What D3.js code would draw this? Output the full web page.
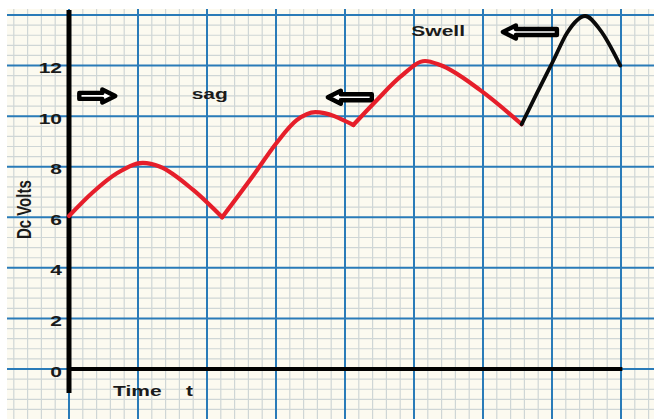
<!DOCTYPE html>
<html><head><meta charset="utf-8">
<script src="https://cdn.jsdelivr.net/npm/d3@7"></script>
<style>html,body{margin:0;padding:0;background:#fff;}svg{display:block;}</style>
</head><body>
<script>
// ---- data ----
const redT = [0, 0.35, 0.70, 1.07, 1.32, 1.80, 2.22, 2.67, 3.01, 3.30, 3.57, 4.12, 4.46, 4.80, 5.16, 5.38, 5.96, 6.56];
const redV = [6.05, 7.0, 7.75, 8.15, 8.0, 7.08, 6.0, 7.65, 8.95, 9.84, 10.16, 9.65, 10.63, 11.55, 12.18, 12.02, 11.03, 9.68];
const redBreaks = [0, 6, 11, 17];
const blackT = [6.56, 6.78, 7.02, 7.22, 7.48, 7.70, 7.99];
const blackV = [9.68, 10.9, 12.2, 13.3, 13.96, 13.4, 12.0];
const yTickLabels = ["0", "2", "4", "6", "8", "10", "12"];
const yTickValues = [0, 2, 4, 6, 8, 10, 12];
const yTitle = "Dc Volts";
const xTitle = "Time";
const xSymbol = "t";
const labels = [{text: "sag", t: 2.04, v: 10.87}, {text: "Swell", t: 5.35, v: 13.36}];
const arrows = [{t: 0.41, v: 10.8, dir: 1, len: 36}, {t: 4.07, v: 10.75, dir: -1, len: 44}, {t: 6.68, v: 13.33, dir: -1, len: 54}];

const W = 654, H = 419;
const x = d3.scaleLinear().domain([0, 8]).range([69, 621]);
const y = d3.scaleLinear().domain([0, 14]).range([369, 15]);

const svg = d3.select("body").append("svg").attr("width", W).attr("height", H);
svg.append("rect").attr("width", W).attr("height", H).attr("fill", "#ffffff");

// paper
const paper = {x0: 7, y0: 9, x1: W, y1: H};
svg.append("rect").attr("x", paper.x0).attr("y", paper.y0)
  .attr("width", paper.x1 - paper.x0).attr("height", paper.y1 - paper.y0).attr("fill", "#fcfaf0");

const gGrid = svg.append("g");
const tMin = x.invert(paper.x0), tMax = x.invert(paper.x1);
const vMin = y.invert(paper.y1), vMax = y.invert(paper.y0);
// minor grid
const minorT = d3.range(Math.ceil(tMin / 0.2) * 0.2, tMax, 0.2).filter(t => Math.abs(t - Math.round(t)) > 0.01);
const minorV = d3.range(Math.ceil(vMin / 0.4) * 0.4, vMax, 0.4).filter(v => Math.abs(v / 2 - Math.round(v / 2)) > 0.01);
gGrid.selectAll(".mvx").data(minorT).join("line")
  .attr("x1", d => x(d)).attr("x2", d => x(d)).attr("y1", paper.y0).attr("y2", paper.y1)
  .attr("stroke", "#cfd6d6").attr("stroke-width", 1.2);
gGrid.selectAll(".mhy").data(minorV).join("line")
  .attr("y1", d => y(d)).attr("y2", d => y(d)).attr("x1", paper.x0).attr("x2", paper.x1)
  .attr("stroke", "#cfd6d6").attr("stroke-width", 1.2);
// major grid
const majorT = d3.range(Math.ceil(tMin), tMax, 1);
const majorV = d3.range(Math.ceil(vMin / 2) * 2, vMax, 2);
gGrid.selectAll(".Mvx").data(majorT).join("line")
  .attr("x1", d => x(d)).attr("x2", d => x(d)).attr("y1", paper.y0).attr("y2", paper.y1)
  .attr("stroke", "#2a7bb8").attr("stroke-width", 2);
gGrid.selectAll(".Mhy").data(majorV).join("line")
  .attr("y1", d => y(d)).attr("y2", d => y(d)).attr("x1", paper.x0).attr("x2", paper.x1)
  .attr("stroke", "#2a7bb8").attr("stroke-width", 2);

// axes lines
svg.append("line").attr("x1", x(0)).attr("x2", x(0)).attr("y1", y(14.2)).attr("y2", y(-0.95))
  .attr("stroke", "#000").attr("stroke-width", 5);
svg.append("line").attr("x1", x(0)).attr("x2", x(8.02)).attr("y1", y(0)).attr("y2", y(0))
  .attr("stroke", "#000").attr("stroke-width", 4);

// y tick labels via axis
const yAxis = d3.axisLeft(y).tickValues(yTickValues).tickFormat((d, i) => yTickLabels[i]).tickSize(0);
const gy = svg.append("g").attr("transform", `translate(${x(0) - 7},0)`).call(yAxis);
gy.select(".domain").remove();
gy.selectAll("text")
  .attr("x", null).attr("dy", null)
  .attr("font-family", "Liberation Sans, Arial, sans-serif").attr("font-weight", "bold")
  .attr("font-size", 14).attr("fill", "#1a1a1a").attr("text-anchor", "end")
  .attr("transform", "translate(0,7) scale(1.5,1)");

const txt = (sel) => sel.attr("font-family", "Liberation Sans, Arial, sans-serif").attr("font-weight", "bold").attr("fill", "#1a1a1a");

// y title
svg.append("text").call(txt).attr("font-size", 15).attr("text-anchor", "middle")
  .attr("transform", `translate(31,${y(6.3)}) scale(1.4,1) rotate(-90)`).text(yTitle);
// x title
svg.append("text").call(txt).attr("font-size", 14)
  .attr("transform", `translate(113,396) scale(1.5,1)`).text(xTitle);
svg.append("text").call(txt).attr("font-size", 14)
  .attr("transform", `translate(186,396) scale(1.5,1)`).text(xSymbol);

// annotation labels
labels.forEach(l => {
  svg.append("text").call(txt).attr("font-size", 14).attr("text-anchor", "middle")
    .attr("transform", `translate(${x(l.t)},${y(l.v) + 5}) scale(1.5,1)`).text(l.text);
});

// arrows
arrows.forEach(a => {
  const L = a.len, hb = 3, hh = 6.5, head = 13;
  const pts = [[-L / 2, -hb], [L / 2 - head, -hb], [L / 2 - head, -hh], [L / 2, 0], [L / 2 - head, hh], [L / 2 - head, hb], [-L / 2, hb]];
  svg.append("path")
    .attr("d", "M" + pts.map(p => p.join(",")).join("L") + "Z")
    .attr("transform", `translate(${x(a.t)},${y(a.v)}) scale(${a.dir},1)`)
    .attr("fill", "#ffffff").attr("stroke", "#000").attr("stroke-width", 4.4).attr("stroke-linejoin", "round");
});

// curves
const line = d3.line().x(d => x(d[0])).y(d => y(d[1])).curve(d3.curveMonotoneX);
const redPts = redT.map((t, i) => [t, redV[i]]);
for (let s = 0; s < redBreaks.length - 1; s++) {
  svg.append("path").attr("d", line(redPts.slice(redBreaks[s], redBreaks[s + 1] + 1)))
    .attr("fill", "none").attr("stroke", "#e61e2a").attr("stroke-width", 4.2)
    .attr("stroke-linejoin", "round").attr("stroke-linecap", "round");
}
svg.append("path").attr("d", line(blackT.map((t, i) => [t, blackV[i]])))
  .attr("fill", "none").attr("stroke", "#0a0a0a").attr("stroke-width", 3.8)
  .attr("stroke-linejoin", "round").attr("stroke-linecap", "round");
</script>
</body></html>
